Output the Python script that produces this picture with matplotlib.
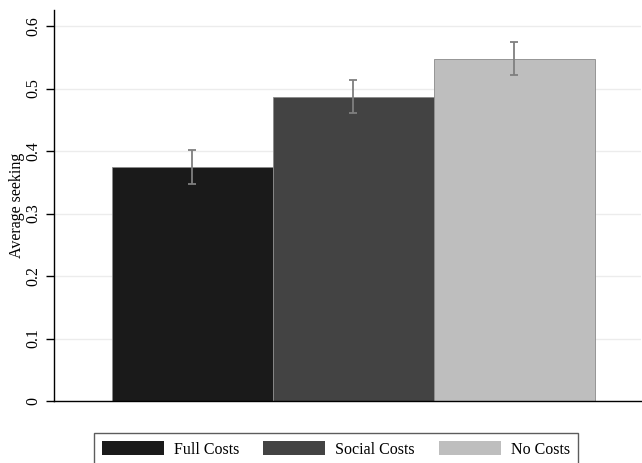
import matplotlib
matplotlib.use("Agg")
import matplotlib.pyplot as plt
from matplotlib.patches import Patch

groups = ["Full Costs", "Social Costs", "No Costs"]
means = [0.375, 0.487, 0.548]
err_lo = [0.348, 0.461, 0.521]
err_hi = [0.402, 0.514, 0.575]
colors = ["#1a1a1a", "#434343", "#bebebe"]
yticks = [0, 0.1, 0.2, 0.3, 0.4, 0.5, 0.6]
ytick_labels = ["0", "0.1", "0.2", "0.3", "0.4", "0.5", "0.6"]

plt.rcParams["font.family"] = ["Liberation Serif", "DejaVu Serif"]

fig = plt.figure(figsize=(6.42, 4.63), dpi=100)
ax = fig.add_axes([0.0841, 0.1339, 0.9143, 0.8445])

x = list(range(len(groups)))
ax.bar(x, means, width=1.0, color=colors, edgecolor="#8a8a8a", linewidth=0.6, zorder=2)
yerr = [[m - lo for m, lo in zip(means, err_lo)], [hi - m for m, hi in zip(means, err_hi)]]
ax.errorbar(x, means, yerr=yerr, fmt="none", ecolor="#7f7f7f", elinewidth=1.3,
            capsize=3, capthick=1.3, zorder=3)

ax.set_xlim(-0.86, 2.786)
ax.set_ylim(0, 0.6256)
ax.set_xticks([])
ax.set_yticks(yticks)
ax.set_yticklabels(ytick_labels, rotation=90, va="center", fontsize=11.5)
ax.tick_params(axis="y", length=6, width=1, pad=3)
ax.yaxis.grid(True, color="#ececec", linewidth=1)
ax.set_axisbelow(True)
for s in ["top", "right"]:
    ax.spines[s].set_visible(False)
ax.spines["left"].set_linewidth(1)
ax.spines["bottom"].set_linewidth(1)
ax.set_ylabel("Average seeking", fontsize=11.5, labelpad=0)

handles = [Patch(facecolor=c, edgecolor="none") for c in colors]
leg = fig.legend(handles, groups, loc="upper left", bbox_to_anchor=(94 / 642, 1 - 433 / 463),
                 ncol=3, fontsize=11.5, frameon=True, fancybox=False, edgecolor="#333333",
                 handlelength=3.9, handleheight=1.0, handletextpad=0.6,
                 columnspacing=1.5, borderpad=0.5, borderaxespad=0)
leg.get_frame().set_linewidth(1)

fig.savefig("out.png", dpi=100)
